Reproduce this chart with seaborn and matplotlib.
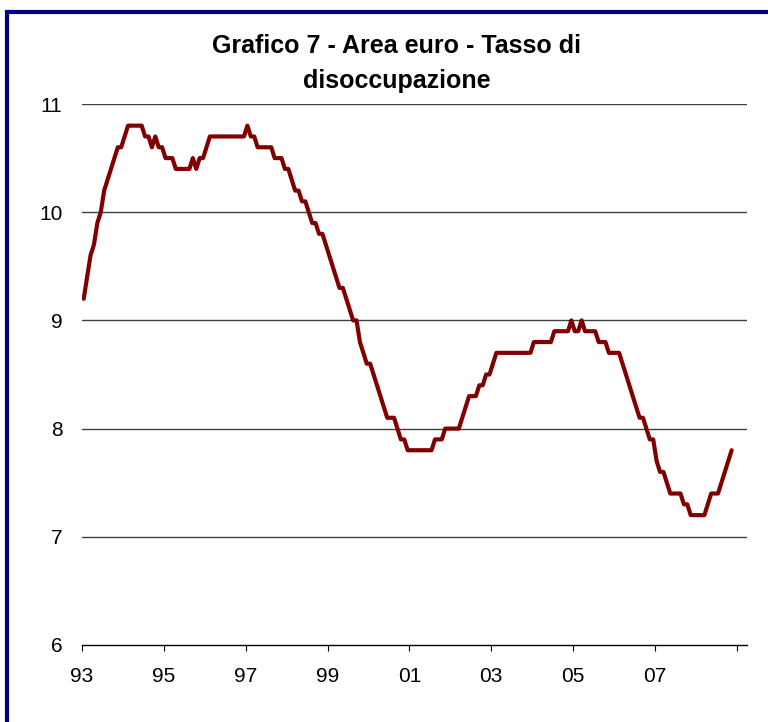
import numpy as np
import pandas as pd
import matplotlib
matplotlib.use("Agg")
import matplotlib.pyplot as plt
import seaborn as sns
from matplotlib.patches import Rectangle

# ---- monthly unemployment rate, euro area (%), Jan 1993 - Nov 2008 ----
r1993 = [9.2, 9.4, 9.6, 9.7, 9.9, 10.0, 10.2, 10.3, 10.4, 10.5, 10.6, 10.6]
r1994 = [10.7, 10.8, 10.8, 10.8, 10.8, 10.8, 10.7, 10.7, 10.6, 10.7, 10.6, 10.6]
r1995 = [10.5, 10.5, 10.5, 10.4, 10.4, 10.4, 10.4, 10.4, 10.5, 10.4, 10.5, 10.5]
r1996 = [10.6, 10.7, 10.7, 10.7, 10.7, 10.7, 10.7, 10.7, 10.7, 10.7, 10.7, 10.7]
r1997 = [10.8, 10.7, 10.7, 10.6, 10.6, 10.6, 10.6, 10.6, 10.5, 10.5, 10.5, 10.4]
r1998 = [10.4, 10.3, 10.2, 10.2, 10.1, 10.1, 10.0, 9.9, 9.9, 9.8, 9.8, 9.7]
r1999 = [9.6, 9.5, 9.4, 9.3, 9.3, 9.2, 9.1, 9.0, 9.0, 8.8, 8.7, 8.6]
r2000 = [8.6, 8.5, 8.4, 8.3, 8.2, 8.1, 8.1, 8.1, 8.0, 7.9, 7.9, 7.8]
r2001 = [7.8, 7.8, 7.8, 7.8, 7.8, 7.8, 7.8, 7.9, 7.9, 7.9, 8.0, 8.0]
r2002 = [8.0, 8.0, 8.0, 8.1, 8.2, 8.3, 8.3, 8.3, 8.4, 8.4, 8.5, 8.5]
r2003 = [8.6, 8.7, 8.7, 8.7, 8.7, 8.7, 8.7, 8.7, 8.7, 8.7, 8.7, 8.7]
r2004 = [8.8, 8.8, 8.8, 8.8, 8.8, 8.8, 8.9, 8.9, 8.9, 8.9, 8.9, 9.0]
r2005 = [8.9, 8.9, 9.0, 8.9, 8.9, 8.9, 8.9, 8.8, 8.8, 8.8, 8.7, 8.7]
r2006 = [8.7, 8.7, 8.6, 8.5, 8.4, 8.3, 8.2, 8.1, 8.1, 8.0, 7.9, 7.9]
r2007 = [7.7, 7.6, 7.6, 7.5, 7.4, 7.4, 7.4, 7.4, 7.3, 7.3, 7.2, 7.2]
r2008 = [7.2, 7.2, 7.2, 7.3, 7.4, 7.4, 7.4, 7.5, 7.6, 7.7, 7.8]

tick_labels = ["93", "95", "97", "99", "01", "03", "05", "07", ""]
y_ticks = [6, 7, 8, 9, 10, 11]
title = "Grafico 7 - Area euro - Tasso di\ndisoccupazione"

rate = (r1993 + r1994 + r1995 + r1996 + r1997 + r1998 + r1999 + r2000
        + r2001 + r2002 + r2003 + r2004 + r2005 + r2006 + r2007 + r2008)
df = pd.DataFrame({"mese": np.arange(len(rate)), "tasso": rate})

sns.set_style("white")
plt.rcParams['font.family'] = ['Liberation Sans', 'DejaVu Sans']
plt.rcParams['text.color'] = 'black'
plt.rcParams['xtick.color'] = 'black'
plt.rcParams['ytick.color'] = 'black'

fig = plt.figure(figsize=(7.68, 7.22), dpi=100)
ax = fig.add_axes([82/768, 1 - 645/722, 665/768, 541/722])

# Excel-style category axis: 195 months shown (Jan 93 - Mar 09)
n_cat = 195
sns.lineplot(data=df, x="mese", y="tasso", ax=ax, color="#800000",
             linewidth=3.0, solid_joinstyle="round", zorder=3)

ax.set_xlim(-0.5, n_cat - 0.5)
ax.set_ylim(6, 11)
ax.set_xticks(np.arange(len(tick_labels)) * 24 - 0.5)
ax.set_xticklabels(tick_labels)
ax.set_yticks(y_ticks)
ax.set_yticklabels([str(v) for v in y_ticks])

for v in y_ticks[1:]:
    ax.axhline(v, color="#404040", linewidth=1.0, zorder=1)

for side in ["top", "right", "left"]:
    ax.spines[side].set_visible(False)
ax.spines["bottom"].set_color("black")
ax.spines["bottom"].set_linewidth(1.0)

ax.tick_params(axis="x", direction="out", length=4.5, width=0.8, color="black",
               pad=11, labelsize=15, bottom=True)
ax.tick_params(axis="y", length=0, pad=14, labelsize=15)
ax.set_xlabel("")
ax.set_ylabel("")

fig.text(397/768, 1 - 34/722, title, ha="center", va="top",
         fontsize=18, fontweight="bold", linespacing=1.6)

# navy frame (cut off on right and bottom, as in the original)
fig.patches.append(Rectangle((7/768, -0.05), 1.2, 1 - 12/722 + 0.05,
                             transform=fig.transFigure, fill=False,
                             edgecolor="#000080", linewidth=3.0))

fig.savefig("out.png", dpi=100)
